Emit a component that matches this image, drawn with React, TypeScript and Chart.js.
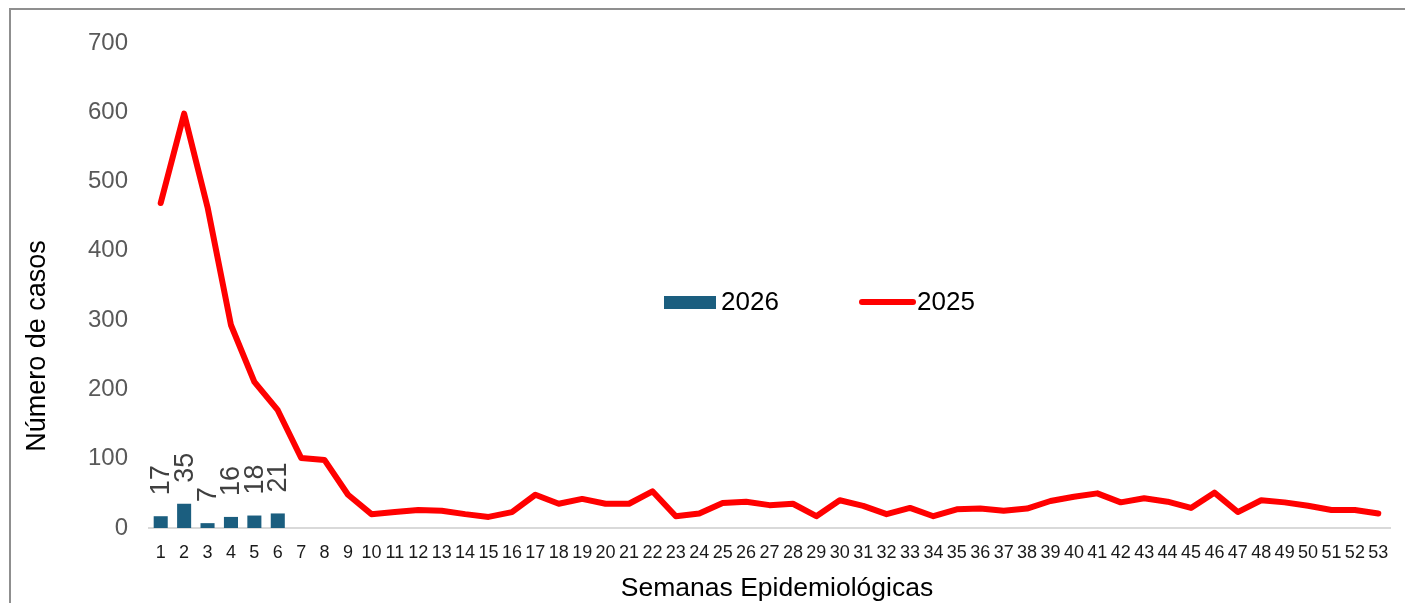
import React, { useEffect, useRef } from "react";
import { Chart, registerables } from "chart.js";

Chart.register(...registerables);

const weeks = [
  "1", "2", "3", "4", "5", "6", "7", "8", "9", "10",
  "11", "12", "13", "14", "15", "16", "17", "18", "19", "20",
  "21", "22", "23", "24", "25", "26", "27", "28", "29", "30",
  "31", "32", "33", "34", "35", "36", "37", "38", "39", "40",
  "41", "42", "43", "44", "45", "46", "47", "48", "49", "50",
  "51", "52", "53",
];

const cases2026 = [17, 35, 7, 16, 18, 21];

const cases2025 = [
  469, 598, 463, 293, 211, 170, 101, 98, 48, 20,
  23, 26, 25, 20, 16, 23, 48, 35, 42, 35,
  35, 53, 17, 21, 36, 38, 33, 35, 17, 40,
  32, 20, 29, 17, 27, 28, 25, 28, 39, 45,
  50, 37, 43, 38, 29, 51, 23, 40, 37, 32,
  26, 26, 21,
];

const yMin = 0;
const yMax = 700;
const yStep = 100;

const seriesNames = ["2026", "2025"];
const yTitle = "Número de casos";
const xTitle = "Semanas Epidemiológicas";

const FONT = "'Liberation Sans', Arial, Helvetica, sans-serif";
const BAR_COLOR = "#1b5e7f";
const LINE_COLOR = "#ff0000";

export default function App() {
  const ref = useRef<HTMLCanvasElement | null>(null);

  useEffect(() => {
    if (!ref.current) return;

    const overlay = {
      id: "overlay",
      afterDatasetsDraw(chart: any) {
        const ctx = chart.ctx as CanvasRenderingContext2D;
        const meta = chart.getDatasetMeta(0);
        ctx.save();
        ctx.font = `27px ${FONT}`;
        ctx.fillStyle = "#404040";
        ctx.textAlign = "left";
        ctx.textBaseline = "middle";
        meta.data.forEach((el: any, i: number) => {
          ctx.save();
          ctx.translate(el.x + 1, el.y - 21);
          ctx.rotate(-Math.PI / 2);
          ctx.fillText(String(cases2026[i]), 0, 0);
          ctx.restore();
        });
        ctx.restore();
      },
      afterDraw(chart: any) {
        const ctx = chart.ctx as CanvasRenderingContext2D;
        ctx.save();
        // axis titles
        ctx.fillStyle = "#000000";
        ctx.textAlign = "center";
        ctx.textBaseline = "middle";
        ctx.font = `27px ${FONT}`;
        ctx.save();
        ctx.translate(38, 346);
        ctx.rotate(-Math.PI / 2);
        ctx.fillText(yTitle, 0, 0);
        ctx.restore();
        ctx.font = `26.5px ${FONT}`;
        ctx.fillText(xTitle, 777, 589);

        // legend
        ctx.font = `26px ${FONT}`;
        ctx.fillStyle = BAR_COLOR;
        ctx.fillRect(664, 296, 52, 13);
        ctx.fillStyle = "#000000";
        ctx.textAlign = "left";
        ctx.fillText(seriesNames[0], 721, 303);

        ctx.strokeStyle = LINE_COLOR;
        ctx.lineWidth = 6;
        ctx.lineCap = "round";
        ctx.beginPath();
        ctx.moveTo(862, 302);
        ctx.lineTo(913, 302);
        ctx.stroke();
        ctx.fillText(seriesNames[1], 917, 303);
        ctx.restore();
      },
    };

    const chart = new Chart(ref.current, {
      type: "bar",
      data: {
        labels: weeks,
        datasets: [
          {
            type: "bar",
            label: seriesNames[0],
            data: cases2026,
            backgroundColor: BAR_COLOR,
            barPercentage: 0.6,
            categoryPercentage: 1,
            order: 2,
          } as any,
          {
            type: "line",
            label: seriesNames[1],
            data: cases2025,
            borderColor: LINE_COLOR,
            backgroundColor: LINE_COLOR,
            borderWidth: 6,
            pointRadius: 0,
            tension: 0,
            fill: false,
            borderJoinStyle: "round",
            borderCapStyle: "round",
            order: 1,
          } as any,
        ],
      },
      options: {
        responsive: false,
        animation: false,
        layout: { padding: { top: 43, right: 15, left: 0, bottom: 0 } },
        plugins: {
          legend: { display: false },
          tooltip: { enabled: false },
          title: { display: false },
        },
        scales: {
          x: {
            offset: true,
            grid: { display: false, drawTicks: false },
            border: { display: true, color: "#d9d9d9", width: 2 },
            ticks: {
              autoSkip: false,
              maxRotation: 0,
              minRotation: 0,
              padding: 14,
              color: "#1a1a1a",
              font: { family: FONT, size: 18 },
            },
            afterFit(axis: any) {
              axis.height = 82;
            },
          },
          y: {
            min: yMin,
            max: yMax,
            ticks: {
              stepSize: yStep,
              padding: 21,
              color: "#595959",
              font: { family: FONT, size: 24 },
            },
            grid: { display: false, drawTicks: false },
            border: { display: false },
            afterFit(axis: any) {
              axis.width = 149;
            },
          },
        },
      } as any,
      plugins: [overlay],
    });

    return () => chart.destroy();
  }, []);

  return (
    <div
      style={{
        position: "fixed",
        left: 0,
        top: 0,
        width: 1405,
        height: 603,
        overflow: "hidden",
        background: "#ffffff",
      }}
    >
      <div
        style={{
          position: "absolute",
          left: 9,
          top: 8,
          width: 1460,
          height: 640,
          border: "2px solid #8f8f8f",
          boxSizing: "border-box",
        }}
      />
      <canvas
        ref={ref}
        width={1405}
        height={610}
        style={{ position: "absolute", left: 0, top: 0, width: 1405, height: 610, display: "block" }}
      />
    </div>
  );
}
